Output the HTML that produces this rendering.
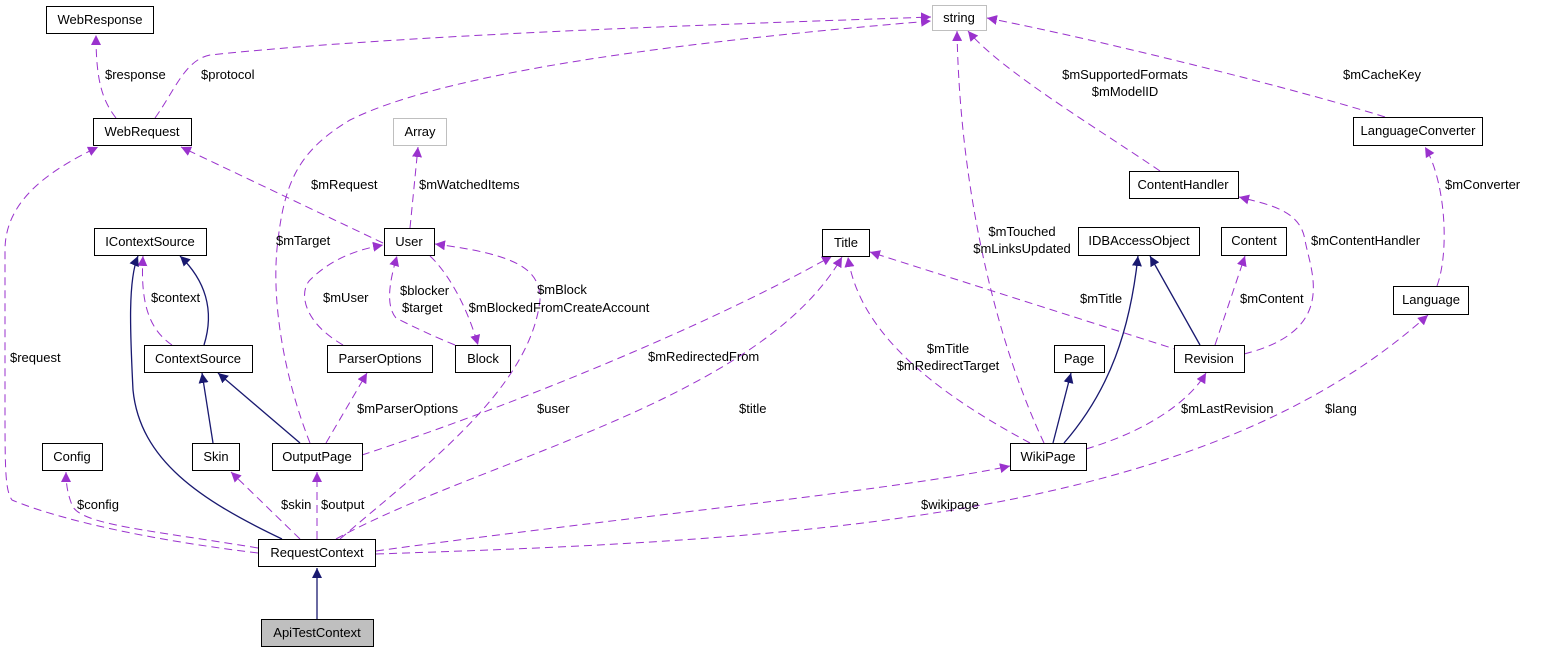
<!DOCTYPE html>
<html><head><meta charset="utf-8"><style>
html,body{margin:0;padding:0;background:#fff;}
svg{display:block;font-family:"Liberation Sans",sans-serif;font-size:13px;}
</style></head><body>
<svg width="1547" height="653" viewBox="0 0 1547 653" xmlns="http://www.w3.org/2000/svg">
<defs>
<marker id="p" viewBox="0 0 10 10" refX="10" refY="5" markerWidth="10" markerHeight="10" markerUnits="userSpaceOnUse" orient="auto"><path d="M0,0 L10,5 L0,10 z" fill="#9a32cd"/></marker>
<marker id="n" viewBox="0 0 10 10" refX="10" refY="5" markerWidth="10" markerHeight="10" markerUnits="userSpaceOnUse" orient="auto"><path d="M0,0 L10,5 L0,10 z" fill="#191970"/></marker>
</defs>
<g fill="none" stroke="#9a32cd" stroke-dasharray="8,5" marker-end="url(#p)">
<path d="M116,118 C102,100 96,80 96,35"/>
<path d="M155,118 C175,90 185,60 210,55 C400,35 700,25 931,17"/>
<path d="M383,243 L181,147"/>
<path d="M258,553 C150,540 60,520 12,500 C5,490 5,470 5,400 L5,250 C5,200 50,170 98,147"/>
<path d="M410,228 L418,147"/>
<path d="M310,443 C285,380 270,300 278,240 C285,180 300,150 350,120 C450,70 700,40 931,21"/>
<path d="M172,345 C150,330 140,305 143,256"/>
<path d="M343,345 C300,320 300,290 310,280 C330,260 355,250 383,245"/>
<path d="M455,345 C430,335 410,325 396,318 C385,305 390,280 397,256"/>
<path d="M430,256 C445,270 465,300 478,345"/>
<path d="M326,443 L367,373"/>
<path d="M362,455 C500,410 700,330 832,256"/>
<path d="M340,539 C420,470 530,390 540,300 C540,270 520,255 435,244"/>
<path d="M317,539 L317,472"/>
<path d="M300,539 L231,472"/>
<path d="M258,548 C150,530 80,525 72,505 C68,495 66,485 66,472"/>
<path d="M336,539 C480,460 760,400 842,257"/>
<path d="M376,551 C600,520 900,490 1010,466"/>
<path d="M376,554 C800,540 1200,520 1428,315"/>
<path d="M1030,443 C950,400 860,340 848,257"/>
<path d="M1044,443 C1000,350 960,200 957,31"/>
<path d="M1181,351 L870,252"/>
<path d="M1086,449 C1150,430 1190,400 1206,373"/>
<path d="M1215,345 L1245,256"/>
<path d="M1244,354 C1340,330 1310,270 1305,240 C1300,210 1270,205 1239,197"/>
<path d="M1160,171 C1100,130 1000,70 968,31"/>
<path d="M1385,117 C1300,90 1100,40 987,18"/>
<path d="M1437,286 C1450,250 1445,180 1425,147"/>
</g>
<g fill="none" stroke="#191970" stroke-width="1.3" marker-end="url(#n)">
<path d="M204,345 C215,310 205,280 180,256"/>
<path d="M282,539 C200,500 140,460 133,390 C130,330 128,280 138,256"/>
<path d="M213,443 L202,373"/>
<path d="M300,443 L218,373"/>
<path d="M1053,443 L1071,373"/>
<path d="M1064,443 C1110,390 1130,330 1138,256"/>
<path d="M1200,345 L1150,256"/>
<path d="M317,619 L317,568"/>
</g>
<g stroke="#000" stroke-width="1" fill="#fff">
<rect x="46.5" y="6.5" width="107" height="27"/>
<rect x="93.5" y="118.5" width="98" height="27"/>
<rect x="94.5" y="228.5" width="112" height="27"/>
<rect x="144.5" y="345.5" width="108" height="27"/>
<rect x="384.5" y="228.5" width="50" height="27"/>
<rect x="327.5" y="345.5" width="105" height="27"/>
<rect x="455.5" y="345.5" width="55" height="27"/>
<rect x="42.5" y="443.5" width="60" height="27"/>
<rect x="192.5" y="443.5" width="47" height="27"/>
<rect x="272.5" y="443.5" width="90" height="27"/>
<rect x="258.5" y="539.5" width="117" height="27"/>
<rect x="261.5" y="619.5" width="112" height="27" fill="#bfbfbf"/>
<rect x="822.5" y="229.5" width="47" height="27"/>
<rect x="1129.5" y="171.5" width="109" height="27"/>
<rect x="1353.5" y="117.5" width="129" height="28"/>
<rect x="1078.5" y="227.5" width="121" height="28"/>
<rect x="1221.5" y="227.5" width="65" height="28"/>
<rect x="1393.5" y="286.5" width="75" height="28"/>
<rect x="1054.5" y="345.5" width="50" height="27"/>
<rect x="1174.5" y="345.5" width="70" height="27"/>
<rect x="1010.5" y="443.5" width="76" height="27"/>
<rect x="932.5" y="5.5" width="54" height="25" stroke="#bfbfbf"/>
<rect x="393.5" y="118.5" width="53" height="27" stroke="#bfbfbf"/>
</g>
<g fill="#000" text-anchor="middle">
<text x="100" y="24">WebResponse</text>
<text x="142" y="136">WebRequest</text>
<text x="150" y="246">IContextSource</text>
<text x="198" y="363">ContextSource</text>
<text x="409" y="246">User</text>
<text x="380" y="363">ParserOptions</text>
<text x="483" y="363">Block</text>
<text x="72" y="461">Config</text>
<text x="216" y="461">Skin</text>
<text x="317" y="461">OutputPage</text>
<text x="317" y="557">RequestContext</text>
<text x="317" y="637">ApiTestContext</text>
<text x="846" y="247">Title</text>
<text x="1183" y="189">ContentHandler</text>
<text x="1418" y="135">LanguageConverter</text>
<text x="1139" y="245">IDBAccessObject</text>
<text x="1254" y="245">Content</text>
<text x="1431" y="304">Language</text>
<text x="1079" y="363">Page</text>
<text x="1209" y="363">Revision</text>
<text x="1048" y="461">WikiPage</text>
<text x="959" y="22">string</text>
<text x="420" y="136">Array</text>
</g>
<g fill="#000">
<text x="105" y="79">$response</text>
<text x="201" y="79">$protocol</text>
<text x="311" y="189">$mRequest</text>
<text x="419" y="189">$mWatchedItems</text>
<text x="10" y="362">$request</text>
<text x="276" y="245">$mTarget</text>
<text x="151" y="302">$context</text>
<text x="323" y="302">$mUser</text>
<text x="400" y="295">$blocker</text>
<text x="402" y="312">$target</text>
<text x="562" y="294" text-anchor="middle">$mBlock</text>
<text x="559" y="312" text-anchor="middle">$mBlockedFromCreateAccount</text>
<text x="357" y="413">$mParserOptions</text>
<text x="648" y="361">$mRedirectedFrom</text>
<text x="537" y="413">$user</text>
<text x="281" y="509">$skin</text>
<text x="321" y="509">$output</text>
<text x="77" y="509">$config</text>
<text x="739" y="413">$title</text>
<text x="921" y="509">$wikipage</text>
<text x="1325" y="413">$lang</text>
<text x="948" y="353" text-anchor="middle">$mTitle</text>
<text x="948" y="370" text-anchor="middle">$mRedirectTarget</text>
<text x="1022" y="236" text-anchor="middle">$mTouched</text>
<text x="1022" y="253" text-anchor="middle">$mLinksUpdated</text>
<text x="1080" y="303">$mTitle</text>
<text x="1181" y="413">$mLastRevision</text>
<text x="1240" y="303">$mContent</text>
<text x="1311" y="245">$mContentHandler</text>
<text x="1125" y="79" text-anchor="middle">$mSupportedFormats</text>
<text x="1125" y="96" text-anchor="middle">$mModelID</text>
<text x="1343" y="79">$mCacheKey</text>
<text x="1445" y="189">$mConverter</text>
</g>
</svg>
</body></html>
